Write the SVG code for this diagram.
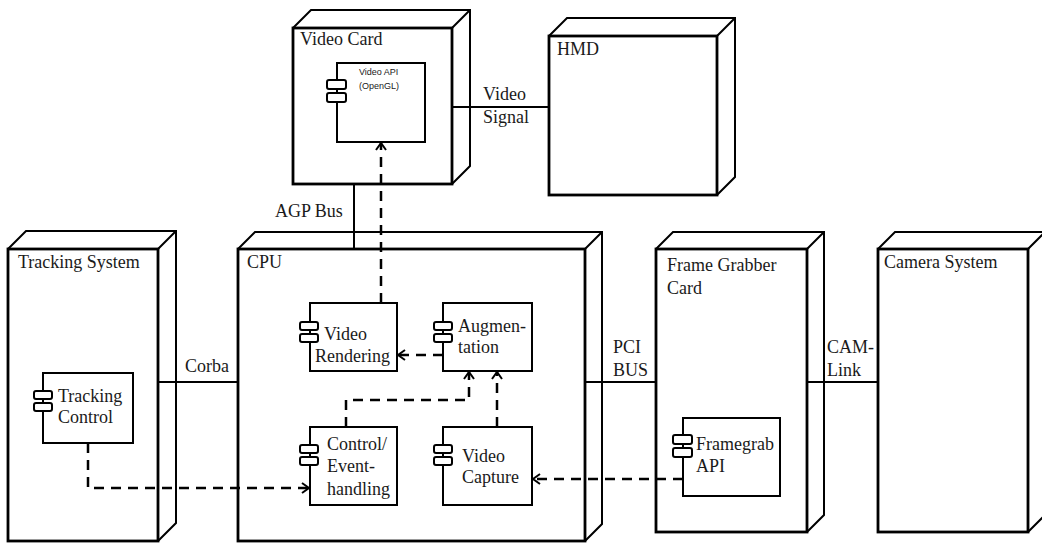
<svg xmlns="http://www.w3.org/2000/svg" width="1042" height="543" viewBox="0 0 1042 543">
<style>
.node{fill:#fff;stroke:#000;stroke-width:2.8}
.edge3d{fill:none;stroke:#000;stroke-width:2;stroke-linejoin:miter}
.comp{fill:#fff;stroke:#000;stroke-width:2}
.icon{fill:#fff;stroke:#000;stroke-width:2}
.t{font-family:"Liberation Serif","Times New Roman",serif;font-size:18px;fill:#1a1a1a}
.s{font-family:"Liberation Sans",Arial,sans-serif;font-size:9px;fill:#1a1a1a}
.link{fill:none;stroke:#000;stroke-width:2}
.dep{fill:none;stroke:#000;stroke-width:2.5;stroke-dasharray:10 7}
</style>
<defs>
<marker id="arr" viewBox="0 0 12 12" refX="10" refY="6" markerWidth="12" markerHeight="12" markerUnits="userSpaceOnUse" orient="auto">
<path d="M3,1 L10,6 L3,11" fill="none" stroke="#000" stroke-width="2"/>
</marker>
</defs>
<rect width="1042" height="543" fill="#fff"/>

<g id="video-card">
<path class="edge3d" d="M293,28 L311,10 L470,10 L470,166 L452,184 M452,28 L470,10"/>
<rect class="node" x="293" y="28" width="159" height="156"/>
<text class="t" x="300" y="45">Video Card</text>
</g>
<g id="hmd">
<path class="edge3d" d="M549,36 L567,18 L735,18 L735,177 L717,195 M717,36 L735,18"/>
<rect class="node" x="549" y="36" width="168" height="159"/>
<text class="t" x="557" y="55">HMD</text>
</g>
<g id="tracking-system">
<path class="edge3d" d="M8,249 L26,231 L176,231 L176,523 L158,541 M158,249 L176,231"/>
<rect class="node" x="8" y="249" width="150" height="292"/>
<text class="t" x="18" y="268">Tracking System</text>
</g>
<g id="cpu">
<path class="edge3d" d="M238,249 L255,232 L602,232 L602,524 L585,541 M585,249 L602,232"/>
<rect class="node" x="238" y="249" width="347" height="292"/>
<text class="t" x="247" y="268">CPU</text>
</g>
<g id="frame-grabber">
<path class="edge3d" d="M656,249 L673,232 L824,232 L824,515 L807,532 M807,249 L824,232"/>
<rect class="node" x="656" y="249" width="151" height="283"/>
<text class="t" x="667" y="271">Frame Grabber</text>
<text class="t" x="667" y="294">Card</text>
</g>
<g id="camera-system">
<path class="edge3d" d="M878,249 L895,232 L1045,232 L1045,515 L1028,532 M1028,249 L1045,232"/>
<rect class="node" x="878" y="249" width="150" height="283"/>
<text class="t" x="884" y="268">Camera System</text>
</g>

<g id="video-api">
<rect class="comp" x="337" y="63" width="88" height="79"/>
<rect class="icon" x="327" y="80" width="19" height="9" rx="2"/>
<rect class="icon" x="327" y="93" width="19" height="9" rx="2"/>
<text class="s" x="359" y="75">Video API</text>
<text class="s" x="359" y="89">(OpenGL)</text>
</g>
<g id="tracking-control">
<rect class="comp" x="43" y="373" width="90" height="70"/>
<rect class="icon" x="34" y="391" width="18" height="8" rx="2"/>
<rect class="icon" x="34" y="403" width="18" height="8" rx="2"/>
<text class="t" x="58" y="402">Tracking</text>
<text class="t" x="58" y="423">Control</text>
</g>
<g id="video-rendering">
<rect class="comp" x="310" y="303" width="87" height="68"/>
<rect class="icon" x="300" y="322" width="18" height="8" rx="2"/>
<rect class="icon" x="300" y="334" width="18" height="8" rx="2"/>
<text class="t" x="324" y="340">Video</text>
<text class="t" x="315" y="362">Rendering</text>
</g>
<g id="augmentation">
<rect class="comp" x="443" y="303" width="89" height="68"/>
<rect class="icon" x="434" y="322" width="18" height="8" rx="2"/>
<rect class="icon" x="434" y="334" width="18" height="8" rx="2"/>
<text class="t" x="458" y="332">Augmen-</text>
<text class="t" x="458" y="353">tation</text>
</g>
<g id="control-eventhandling">
<rect class="comp" x="310" y="427" width="87" height="78"/>
<rect class="icon" x="300" y="445" width="18" height="8" rx="2"/>
<rect class="icon" x="300" y="457" width="18" height="8" rx="2"/>
<text class="t" x="327" y="450">Control/</text>
<text class="t" x="327" y="472">Event-</text>
<text class="t" x="327" y="495">handling</text>
</g>
<g id="video-capture">
<rect class="comp" x="443" y="427" width="89" height="78"/>
<rect class="icon" x="434" y="445" width="18" height="8" rx="2"/>
<rect class="icon" x="434" y="457" width="18" height="8" rx="2"/>
<text class="t" x="462" y="462">Video</text>
<text class="t" x="462" y="483">Capture</text>
</g>
<g id="framegrab-api">
<rect class="comp" x="683" y="418" width="97" height="78"/>
<rect class="icon" x="673" y="435" width="19" height="9" rx="2"/>
<rect class="icon" x="673" y="448" width="19" height="9" rx="2"/>
<text class="t" x="696" y="450">Framegrab</text>
<text class="t" x="696" y="472">API</text>
</g>

<g id="connectors">
<line class="link" x1="452" y1="107" x2="549" y2="107"/>
<text class="t" x="483" y="100">Video</text>
<text class="t" x="483" y="123">Signal</text>
<line class="link" x1="354" y1="184" x2="354" y2="249"/>
<text class="t" x="275" y="217">AGP Bus</text>
<line class="link" x1="158" y1="382" x2="238" y2="382"/>
<text class="t" x="185" y="372">Corba</text>
<line class="link" x1="585" y1="382" x2="656" y2="382"/>
<text class="t" x="613" y="353">PCI</text>
<text class="t" x="613" y="376">BUS</text>
<line class="link" x1="807" y1="382" x2="878" y2="382"/>
<text class="t" x="827" y="353">CAM-</text>
<text class="t" x="827" y="376">Link</text>
<path class="dep" d="M381,303 L381,143" marker-end="url(#arr)"/>
<path class="dep" d="M443,355 L398,355" marker-end="url(#arr)"/>
<path class="dep" d="M346,427 L346,400 L469,400 L469,372" marker-end="url(#arr)"/>
<path class="dep" d="M497,427 L497,372" marker-end="url(#arr)"/>
<path class="dep" d="M683,479 L533,479" marker-end="url(#arr)"/>
<path class="dep" d="M88,443 L88,488 L309,488" marker-end="url(#arr)"/>
</g>
</svg>
